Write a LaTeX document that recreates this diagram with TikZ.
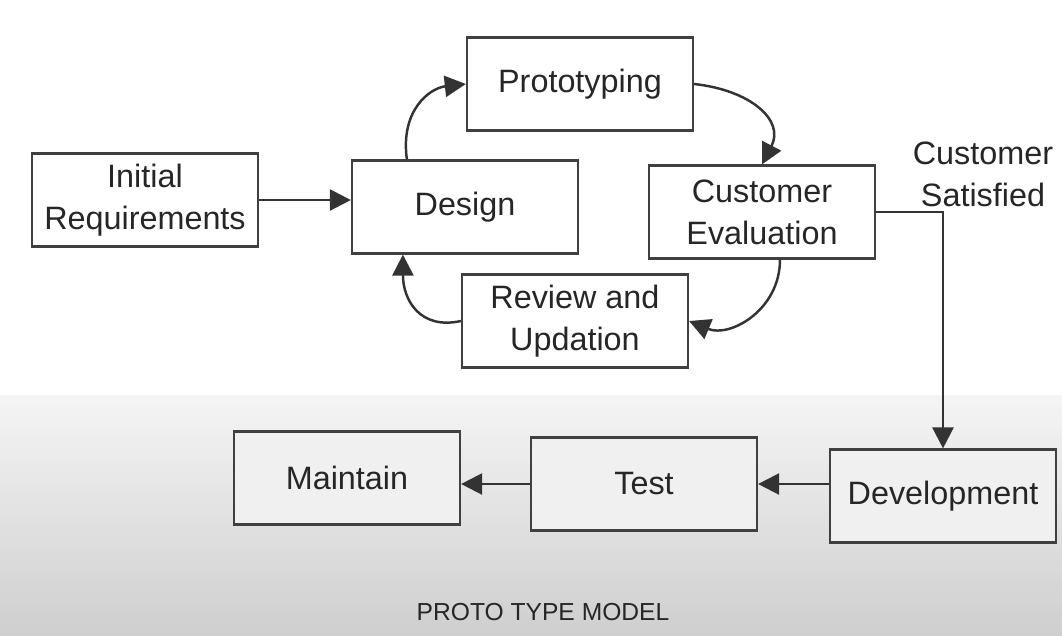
\documentclass[tikz,border=0pt]{standalone}
\usepackage{fontspec}
\setsansfont{Liberation Sans}
\usepackage{tikz}
\usetikzlibrary{arrows.meta,positioning}

\begin{document}
\begin{tikzpicture}[x=0.01cm, y=-0.01cm,
        every node/.style={font=\sffamily\fontsize{9.2}{12}\selectfont, text=black!85},
        phase/.style={draw=black!75, line width=0.6pt, minimum width=2.26cm, minimum height=0.93cm, align=center, inner sep=2pt},
        flow/.style={-{Triangle[length=6pt, width=6pt]}, draw=black!80, line width=0.7pt}]
            % frame and lower shaded band of the page
            \useasboundingbox (0,0) rectangle (1062,635);
            \fill[white] (0,0) rectangle (1062,635);
            \shade[top color=gray!8, bottom color=gray!38] (0,395) rectangle (1062,635);

            \node[phase] (initreq) at (145,200) {Initial\\Requirements};
            \node[phase] (design) at (465,207) {Design};
            \node[phase] (proto) at (580,84) {Prototyping};
            \node[phase] (evaluation) at (762,212) {Customer\\Evaluation};
            \node[phase] (review) at (575,321) {Review and\\Updation};
            \node[phase, fill=gray!12] (develop) at (943,496) {Development};
            \node[phase, fill=gray!12] (test) at (644,484) {Test};
            \node[phase, fill=gray!12] (maintain) at (347,478) {Maintain};

            \node[align=center] (satisfied) at (983,174) {Customer\\Satisfied};
            \node[font=\sffamily\fontsize{7}{8}\selectfont] (caption) at (543,612) {PROTO TYPE MODEL};

            \coordinate (dtop) at ([xshift=0.56cm]design.north west);
            \coordinate (dbot) at ([xshift=0.52cm]design.south west);
            \coordinate (ebot) at ([xshift=0.18cm]evaluation.south);

            \draw[flow] (initreq.east) -- (design.west |- initreq.east);
            \draw[flow] (dtop) .. controls (400,110) and (430,88) .. (proto.west);
            \draw[flow] (proto.east) .. controls (750,90) and (785,120) .. (evaluation.north);
            \draw[flow] (ebot) .. controls (780,310) and (730,338) .. (review.east);
            \draw[flow] (review.west) .. controls (420,330) and (403,300) .. (dbot);
            \draw[flow] (evaluation.east) -| (develop.north);
            \draw[flow] (develop.west |- test.east) -- (test.east);
            \draw[flow] (test.west) -- (maintain.east |- test.west);
        \end{tikzpicture}
\end{document}
